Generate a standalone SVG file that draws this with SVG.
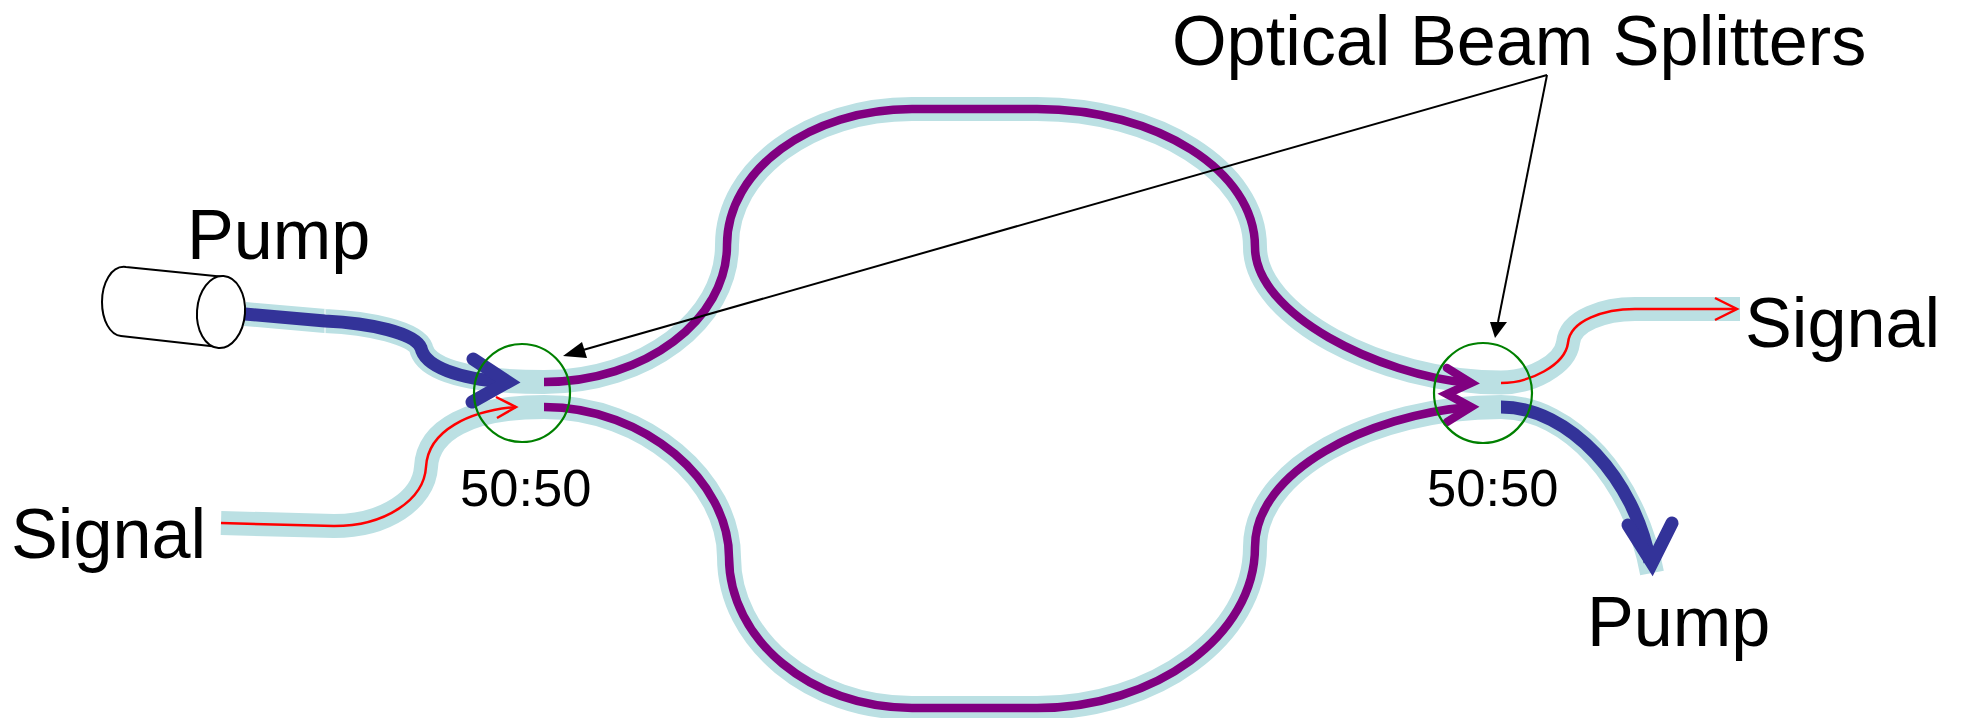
<svg xmlns="http://www.w3.org/2000/svg" width="1961" height="718" viewBox="0 0 1961 718">
<style>
text{font-family:"Liberation Sans",Arial,sans-serif;fill:#000}
.big{font-size:70.200px}
.ratio{font-size:52.500px}
path,line,ellipse{fill:none}
.band{stroke:#bbe0e3;stroke-width:24}
.purple{stroke:#800080;stroke-width:8.500}
.blue{stroke:#333399;stroke-width:13}
.red{stroke:#ff0000;stroke-width:2.500}
.head{stroke-linecap:round;stroke-linejoin:miter;stroke-miterlimit:10}
.split{stroke:#008000;stroke-width:2.200}
.thin{stroke:#000;stroke-width:2}
.tip{fill:#000;stroke:none}
</style>
<g id="connectors">
<g id="fibre-bands">
<path class="band" d="M245 314L325 321C370 323 415 333 421 348C425 367 460 382 544 382"/>
<path class="band" d="M221 523L334 526C385 526 424 500 426 467C428 430 470 407 544 407"/>
<path class="band" d="M544 382C645 382 727 320 727 245C727 170 810 109 912 109L1037 109C1157 109 1255 171 1255 247C1255 315 1380 382.500 1501 382.500C1530 382.500 1565 365 1568 343C1570 320 1605 309 1635 309L1740 309"/>
<path class="band" d="M544 407C646 407 729 482 729 557C729 640 811 708 912 708L1037 708C1155 708 1255 636 1255 547C1255 470 1370 407 1501 407C1570 407 1635 480 1652 573"/>
<line x1="325" y1="309" x2="325" y2="333" stroke="#fff" stroke-width="1"/>
</g>
<g id="waveguides">
<path class="purple" d="M544 382C645 382 727 320 727 245C727 170 810 109 912 109L1037 109C1157 109 1255 171 1255 247C1255 315 1380 375 1470 383"/>
<path class="purple" d="M544 407C646 407 729 482 729 557C729 640 811 708 912 708L1037 708C1155 708 1255 636 1255 547C1255 470 1370 415 1470 407"/>
<path class="purple head" d="M1447 368L1471 383L1447 394L1471 407L1447 422"/>
<path class="red" d="M221 523L334 526C385 526 424 500 426 467C428 430 470 411 516 407"/>
<path class="red" d="M496 397L516 407L497 418"/>
<path class="red" d="M1501 383C1530 383 1565 365 1568 343C1570 320 1605 309 1635 309L1736 309"/>
<path class="red" d="M1715 298L1737 309L1715 320"/>
<path class="blue" d="M245 314L325 321C370 323 415 333 421 348C425 367 460 379 505 382"/>
<path class="blue head" d="M473 359L508 382L472 402"/>
<path class="blue" d="M1501 407C1570 407 1635 480 1650 562"/>
<path class="blue head" d="M1628 525L1652 563L1672 523"/>
</g>
<g id="pointers">
<line class="thin" x1="1547" y1="75" x2="576" y2="352"/>
<path class="tip" d="M563 356L582 342L587 358Z"/>
<line class="thin" x1="1547" y1="75" x2="1498" y2="322"/>
<path class="tip" d="M1495 338L1490 322L1507 322Z"/>
</g>
</g>
<g id="laser">
<path d="M225 277L126 267C111 265 102 284 102 302C102 320 110 335 121 336L219 347" stroke="#000" stroke-width="2" style="fill:#fff"/>
<ellipse cx="221" cy="312" rx="24" ry="36" transform="rotate(4 221 312)" stroke="#000" stroke-width="2" style="fill:#fff"/>
</g>
<g id="pump-in-label"><text class="big" x="187" y="259">Pump</text></g>
<g id="signal-in-label"><text class="big" x="11" y="558">Signal</text></g>
<g id="splitter-left">
<ellipse class="split" cx="522" cy="393" rx="48" ry="49"/>
<text class="ratio" x="460" y="506">50:50</text>
</g>
<g id="splitter-right">
<ellipse class="split" cx="1483" cy="393" rx="49" ry="50"/>
<text class="ratio" x="1427" y="506">50:50</text>
</g>
<g id="splitters-label"><text class="big" x="1172" y="65">Optical Beam Splitters</text></g>
<g id="signal-out-label"><text class="big" x="1745" y="347">Signal</text></g>
<g id="pump-out-label"><text class="big" x="1587" y="646">Pump</text></g>
</svg>
